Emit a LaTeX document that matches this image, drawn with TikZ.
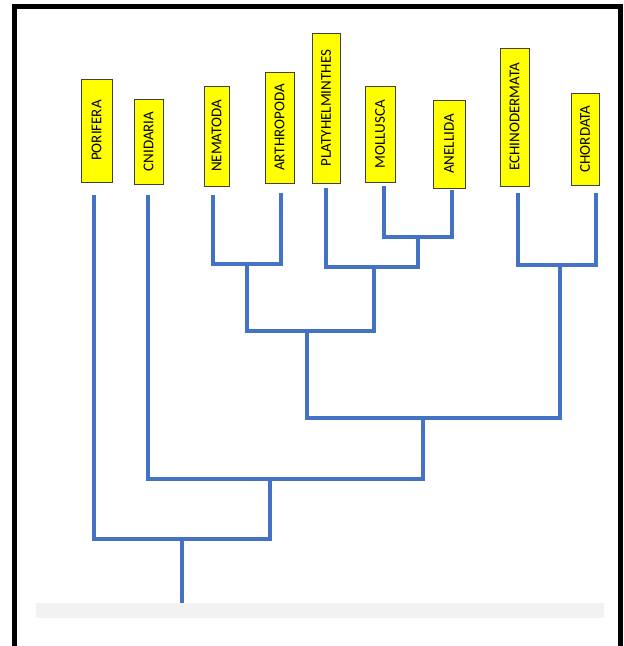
\documentclass[tikz,border=0pt]{standalone}
\usepackage{fontspec}
\setmainfont{Carlito}
\usepackage{tikz}
\definecolor{bleu}{HTML}{4472C4}
\definecolor{jaune}{HTML}{FFFF00}
\definecolor{gris}{HTML}{F2F2F2}
\definecolor{bord}{HTML}{404040}
\usetikzlibrary{shapes,calc}
\tikzset{taxon/.style={
    draw=bord,
    fill=jaune,
    line width=1pt,
    rotate=90,
    inner sep=0,
    font=\fontsize{15}{18}\selectfont}}
\tikzset{branch/.style={
    draw=bleu,
    line width=4pt}}
\tikzset{cadre/.style={
    draw=black,
    line width=5pt}}

\begin{document}
\begin{tikzpicture}[x=1pt, y=-1pt]
  \useasboundingbox (0,0) rectangle (624,646);

\draw[cadre] (14.5,646) |- (620.5,6.5) -- (620.5,646);
\fill[gris] (36,603) rectangle (604,618);

\node[taxon,
  minimum width=103pt,
  minimum height=31pt] (porifera) at (96.5,130.5) {PORIFERA};
\node[taxon,
  minimum width=85pt,
  minimum height=29pt] (cnidaria) at (148.5,141.5) {CNIDARIA};
\node[taxon,
  minimum width=100pt,
  minimum height=25pt] (nematoda) at (216.5,136) {NEMATODA};
\node[taxon,
  minimum width=111pt,
  minimum height=29pt] (arthropoda) at (279.5,127.5) {ARTHROPODA};
\node[taxon,
  minimum width=150pt,
  minimum height=28pt] (platy) at (326,108) {PLATYHELMINTHES};
\node[taxon,
  minimum width=96pt,
  minimum height=30pt] (mollusca) at (380,134) {MOLLUSCA};
\node[taxon,
  minimum width=88pt,
  minimum height=32pt] (anellida) at (449,144) {ANELLIDA};
\node[taxon,
  minimum width=138pt,
  minimum height=29pt] (echino) at (514.5,117) {ECHINODERMATA};
\node[taxon,
  minimum width=92pt,
  minimum height=28pt] (chordata) at (585,139) {CHORDATA};

  \coordinate (por) at (94,195);
  \coordinate (cni) at (147.5,195);
  \coordinate (nem) at (212.5,195);
  \coordinate (art) at (281,193);
  \coordinate (pla) at (326,188);
  \coordinate (mol) at (384,186);
  \coordinate (ane) at (452,190);
  \coordinate (ech) at (518,193);
  \coordinate (cho) at (595.5,193);

  \coordinate (na) at (247,264);
  \coordinate (ma) at (418,237);
  \coordinate (pma) at (374,267);
  \coordinate (pro) at (307,331);
  \coordinate (ec) at (560,265);
  \coordinate (bil) at (423,418);
  \coordinate (eum) at (270,479);
  \coordinate (met) at (182,539);
  \coordinate (racine) at (182,603);

  \draw[branch] (nem) |- (na) -| (art);
  \draw[branch] (mol) |- (ma) -| (ane);
  \draw[branch] (pla) |- (pma) -| (ma);
  \draw[branch] (na) |- (pro) -| (pma);
  \draw[branch] (ech) |- (ec) -| (cho);
  \draw[branch] (pro) |- (bil) -| (ec);
  \draw[branch] (cni) |- (eum) -| (bil);
  \draw[branch] (por) |- (met) -| (eum);
  \draw[branch] (met) -- (racine);
\end{tikzpicture}
\end{document}
